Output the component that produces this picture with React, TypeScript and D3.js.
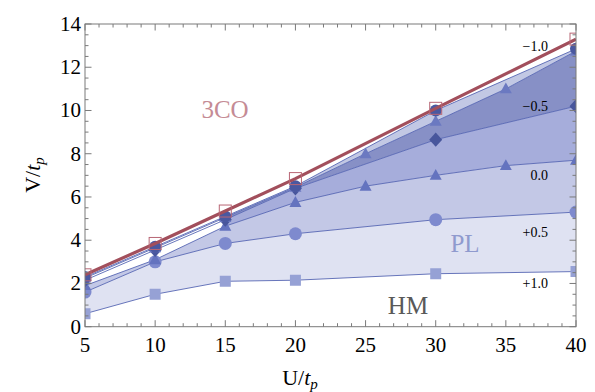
import * as d3 from "d3";

// U grid points where each series was computed
const uSix = [5, 10, 15, 20, 30, 40];
const uEight = [5, 10, 15, 20, 25, 30, 35, 40];

// V/t_p boundary values
const vPlus10 = [0.6, 1.5, 2.1, 2.15, 2.45, 2.55];
const vPlus05 = [1.6, 3.0, 3.85, 4.3, 4.95, 5.3];
const vZero = [1.9, 3.1, 4.65, 5.75, 6.5, 7.0, 7.45, 7.7];
const vMinus05 = [2.15, 3.55, 4.95, 6.4, 8.65, 10.2];
const vMinus075 = [2.25, 3.65, 5.05, 6.45, 8.0, 9.5, 11.0, 12.75];
const vMinus10 = [2.3, 3.7, 5.1, 6.5, 10.0, 12.85];
const v3CO = [2.4, 3.85, 5.35, 6.85, 10.1, 13.3];

// first U at which each shaded band appears
const bandStart = [5, 5, 15, 15, 15];

const curveLabels = ["\u22121.0", "\u22120.5", "0.0", "+0.5", "+1.0"];
const curveLabelV = [13.0, 10.2, 7.0, 4.4, 2.0];

const xTicks = [5, 10, 15, 20, 25, 30, 35, 40];
const yTicks = [0, 2, 4, 6, 8, 10, 12, 14];

type Pt = [number, number];
const zip = (u: number[], v: number[]): Pt[] => u.map((d, i) => [d, v[i]]);

const series = [
  { pts: zip(uSix, vPlus10), marker: "square", color: "#96a1d5", size: 11 },
  { pts: zip(uSix, vPlus05), marker: "circle", color: "#7e8ace", size: 13 },
  { pts: zip(uEight, vZero), marker: "triangle", color: "#6473bf", size: 12 },
  { pts: zip(uSix, vMinus05), marker: "diamond", color: "#48569c", size: 13 },
  { pts: zip(uEight, vMinus075), marker: "triangle", color: "#6b79c1", size: 12 },
  { pts: zip(uSix, vMinus10), marker: "circle", color: "#4a58a0", size: 12 },
];

const bandColors = ["#dfe2f2", "#c3c8e6", "#a6addb", "#8790c6", "#c2c8e4"];

export default function App() {
  const width = 595;
  const height = 392;
  const left = 85, right = 576, top = 24, bottom = 326.7;

  const x = d3.scaleLinear().domain([5, 40]).range([left, right]);
  const y = d3.scaleLinear().domain([0, 14]).range([bottom, top]);

  const line = d3.line<Pt>().x(d => x(d[0])).y(d => y(d[1]));

  const band = (lo: Pt[], hi: Pt[], u0: number) => {
    const a = lo.filter(d => d[0] >= u0);
    const b = hi.filter(d => d[0] >= u0);
    const poly = [...a, ...b.slice().reverse()];
    return "M" + poly.map(d => `${x(d[0])},${y(d[1])}`).join("L") + "Z";
  };

  const markerPath = (kind: string, s: number) => {
    const h = s / 2;
    if (kind === "square") return `M${-h},${-h}H${h}V${h}H${-h}Z`;
    if (kind === "diamond") return `M0,${-h * 1.1}L${h},0L0,${h * 1.1}L${-h},0Z`;
    if (kind === "triangle") return `M0,${-h * 1.05}L${h},${h * 0.75}L${-h},${h * 0.75}Z`;
    return d3.symbol(d3.symbolCircle, Math.PI * h * h)() || "";
  };

  const xMinor = d3.range(5, 40.01, 1);
  const yMinor = d3.range(0, 14.01, 0.5);
  const axisColor = "#7a7a7a";
  const serif = "'Liberation Serif', 'Times New Roman', serif";

  return (
    <svg width={width} height={height} style={{ position: "absolute", left: 0, top: 0, background: "#fff" }}
      fontFamily={serif}>
      <defs>
        <clipPath id="plot">
          <rect x={left} y={top} width={right - left} height={bottom - top} />
        </clipPath>
      </defs>
      <g clipPath="url(#plot)">
        {series.slice(0, -1).map((s, i) => (
          <path key={"b" + i} d={band(s.pts, series[i + 1].pts, bandStart[i])} fill={bandColors[i]} />
        ))}
        {series.map((s, i) => (
          <path key={"l" + i} d={line(s.pts) || ""} fill="none" stroke="#5767b3" strokeWidth={0.9} />
        ))}
        {series.map((s, i) =>
          s.pts.map((p, j) => (
            <path key={`m${i}-${j}`} d={markerPath(s.marker, s.size)}
              transform={`translate(${x(p[0])},${y(p[1])})`} fill={s.color} />
          ))
        )}
        <path d={line(zip(uSix, v3CO)) || ""} fill="none" stroke="#a24f5c" strokeWidth={3.2} />
        {uSix.map((u, j) => (
          <rect key={"r" + j} x={x(u) - 6} y={y(v3CO[j]) - 6} width={12} height={12}
            fill="none" stroke="#b86675" strokeWidth={1} />
        ))}
      </g>

      {/* frame */}
      <rect x={left} y={top} width={right - left} height={bottom - top} fill="none" stroke={axisColor} strokeWidth={1} />
      {xMinor.map(t => {
        const major = t % 5 === 0;
        const l = major ? 6.5 : 3.5;
        return (
          <g key={"xt" + t} stroke={axisColor} strokeWidth={1}>
            <line x1={x(t)} x2={x(t)} y1={bottom} y2={bottom - l} />
            <line x1={x(t)} x2={x(t)} y1={top} y2={top + l} />
          </g>
        );
      })}
      {yMinor.map(t => {
        const major = t % 2 === 0;
        const l = major ? 6.5 : 3.5;
        return (
          <g key={"yt" + t} stroke={axisColor} strokeWidth={1}>
            <line x1={left} x2={left + l} y1={y(t)} y2={y(t)} />
            <line x1={right} x2={right - l} y1={y(t)} y2={y(t)} />
          </g>
        );
      })}
      {xTicks.map(t => (
        <text key={"xl" + t} x={x(t)} y={352} textAnchor="middle" fontSize={21}>{t}</text>
      ))}
      {yTicks.map(t => (
        <text key={"yl" + t} x={left - 4} y={y(t) + 7} textAnchor="end" fontSize={21}>{t}</text>
      ))}

      {/* axis titles */}
      <text x={300} y={385} textAnchor="middle" fontSize={22}>
        U/<tspan fontStyle="italic">t</tspan><tspan fontStyle="italic" fontSize={15} dy={4}>p</tspan>
      </text>
      <text transform={`translate(40,${175}) rotate(-90)`} textAnchor="middle" fontSize={22}>
        V/<tspan fontStyle="italic">t</tspan><tspan fontStyle="italic" fontSize={15} dy={4}>p</tspan>
      </text>

      {/* region labels */}
      <text x={225} y={118} textAnchor="middle" fontSize={25} fill="#c58b95">3CO</text>
      <text x={465} y={252} textAnchor="middle" fontSize={25} fill="#8f9ace">PL</text>
      <text x={408} y={314} textAnchor="middle" fontSize={25} fill="#595959">HM</text>

      {curveLabels.map((s, i) => (
        <text key={"c" + i} x={548} y={y(curveLabelV[i]) + 5} textAnchor="end" fontSize={14}>{s}</text>
      ))}
    </svg>
  );
}
